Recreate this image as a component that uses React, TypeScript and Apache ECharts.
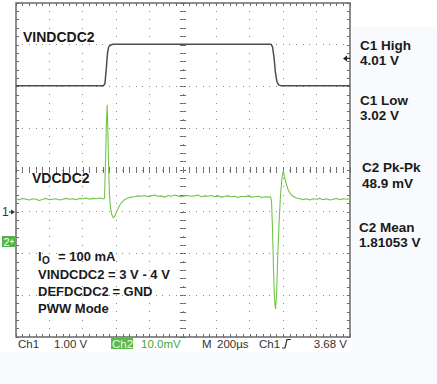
import React, { useEffect, useRef } from "react";
import * as echarts from "echarts";

// Time axis: 10 divisions of 200 µs
const timeMin = 0;
const timeMax = 2000;
// Ch1 (VINDCDC2), volts, 1.00 V/div, ground marker 1 div below centre
const ch1Min = -3;
const ch1Max = 5;
const ch1Times = [0, 525, 533, 541, 548, 555, 565, 580, 1528, 1536, 1545, 1553, 1562, 1572, 1585, 2000];
const ch1Volts = [3.02, 3.02, 3.08, 3.45, 3.8, 3.95, 3.99, 4.01, 4.01, 3.95, 3.7, 3.35, 3.12, 3.04, 3.02, 3.02];
// Ch2 (VDCDC2), mV offset from screen centre, 10.0 mV/div
const ch2Min = -40;
const ch2Max = 40;
const ch2Times = [
  0, 20, 40, 60, 80, 100, 120, 140, 160, 180, 200, 220, 240, 260, 280, 300, 320, 340, 360, 380, 400, 420, 440, 460, 480, 500, 520,
  530, 536, 542, 546, 550, 555, 560, 566, 574, 584, 592, 602, 616, 632, 650, 670, 690, 710, 730, 750,
  770, 790, 810, 830, 850, 870, 890, 910, 930, 950, 970, 990, 1010, 1030, 1050, 1070, 1090, 1110, 1130, 1150,
  1170, 1190, 1210, 1230, 1250, 1270, 1290, 1310, 1330, 1350, 1370, 1390, 1410, 1430, 1450, 1470, 1490, 1510, 1524,
  1530, 1536, 1542, 1548, 1554, 1560, 1568, 1576, 1584, 1592, 1600, 1610, 1620, 1630, 1645, 1660, 1680, 1700,
  1720, 1740, 1760, 1780, 1800, 1820, 1840, 1860, 1880, 1900, 1920, 1940, 1960, 1980, 2000,
];
const ch2Offsets = [
  -6.9, -7.1, -6.8, -7.0, -7.2, -6.9, -7.0, -7.3, -7.0, -6.8, -7.1, -7.0, -6.9, -7.2, -7.0, -6.8, -7.0, -6.9, -7.1, -6.8, -6.9, -6.7, -7.0, -6.8, -6.9, -6.7, -6.9,
  -6.8, 2.0, 12.0, 15.6, 10.0, 0.0, -6.0, -9.0, -10.8, -11.5, -11.0, -10.0, -8.8, -7.8, -7.1, -6.7, -6.5, -6.4, -6.2, -6.3,
  -6.1, -6.4, -6.2, -6.0, -6.3, -6.2, -6.5, -6.1, -6.3, -6.0, -6.2, -6.4, -6.2, -6.1, -6.3, -6.2, -6.0, -6.4, -6.2, -6.3,
  -6.1, -6.4, -6.2, -6.5, -6.3, -6.2, -6.4, -6.3, -6.6, -6.3, -6.4, -6.2, -6.5, -6.4, -6.3, -6.6, -6.4, -6.5, -6.4,
  -7.5, -14.0, -24.0, -31.0, -33.3, -30.0, -20.0, -12.0, -6.0, -2.0, -0.2, -2.0, -3.6, -4.8, -5.8, -6.3, -6.7, -6.9,
  -7.1, -6.9, -7.2, -6.9, -7.0, -6.8, -7.1, -6.9, -7.2, -7.0, -6.8, -7.1, -6.9, -7.0, -6.8,
];
// Graticule in divisions (5 minor steps per division)
const xDivs = [-5, 5];
const yDivs = [-4, 4];
const minorPerDiv = 5;
const verticalGridLines = [-4, -3, -2, -1, 0, 1, 2, 3, 4];
const horizontalGridLines = [-3, -2, -1, 0, 1, 2, 3];

const measureLabels = ["C1 High", "4.01 V", "C1 Low", "3.02 V", "C2 Pk-Pk", "48.9 mV", "C2 Mean", "1.81053 V"];
const noteLines = ["VINDCDC2 = 3 V - 4 V", "DEFDCDC2 = GND", "PWW Mode"];

const GRID_DOT = "#8a8a8a";
const FRAME = "#6a6a6a";
const GREEN = "#72c34c";
const BOLD = '"Liberation Sans", Arial, sans-serif';

function tickAxisX(extra: any) {
  return {
    type: "value",
    min: xDivs[0],
    max: xDivs[1],
    interval: 1,
    axisLabel: { show: false },
    axisLine: { show: false, onZero: false },
    axisTick: { show: true, inside: true, length: 3, lineStyle: { color: FRAME, width: 1 } },
    minorTick: { show: true, splitNumber: 5, length: 3, lineStyle: { color: FRAME, width: 1 } },
    splitLine: { show: false },
    ...extra,
  };
}
function tickAxisY(extra: any) {
  return {
    type: "value",
    min: yDivs[0],
    max: yDivs[1],
    interval: 1,
    axisLabel: { show: false },
    axisLine: { show: false, onZero: false },
    axisTick: { show: true, inside: true, length: 3, lineStyle: { color: FRAME, width: 1 } },
    minorTick: { show: true, splitNumber: 5, length: 3, lineStyle: { color: FRAME, width: 1 } },
    splitLine: { show: false },
    ...extra,
  };
}

export default function App() {
  const ref = useRef<HTMLDivElement>(null);
  useEffect(() => {
    document.body.style.margin = "0";
    const chart = echarts.init(ref.current!, null, { renderer: "svg" });
    const ch1Data = ch1Times.map((t, i) => [t, ch1Volts[i]]);
    const ch2Data = ch2Times.map((t, i) => [t, ch2Offsets[i]]);
    const gridData = [
      ...verticalGridLines.map((v) => [0, v]),
      ...horizontalGridLines.map((v) => [1, v]),
    ];

    const textEl = (text: string, x: number, y: number, extra: any = {}) => ({
      type: "text",
      x,
      y,
      silent: true,
      style: {
        text,
        fill: "#1a1a1a",
        font: `bold 14px ${BOLD}`,
        verticalAlign: "middle",
        align: "left",
        ...extra,
      },
    });
    const statusFont = `11.5px ${BOLD}`;
    const measureY = [45.3, 60.3, 100, 115, 167.5, 183.5, 227, 242];
    const measureX = [360, 360, 360, 360, 362, 362, 359, 359];
    const dot = (p: number[]) => ({
      type: "rect",
      shape: { x: Math.floor(p[0]), y: Math.floor(p[1]), width: 1, height: 1 },
      style: { fill: GRID_DOT },
    });

    const option: any = {
      animation: false,
      backgroundColor: "#ffffff",
      grid: {
        left: 16,
        top: 3,
        width: 334,
        height: 334,
        show: true,
        backgroundColor: "#ffffff",
        borderColor: FRAME,
        borderWidth: 1.5,
      },
      xAxis: [
        { type: "value", min: timeMin, max: timeMax, show: false, axisLine: { onZero: false } },
        tickAxisX({ position: "bottom" }),
        tickAxisX({ position: "top" }),
        tickAxisX({ position: "bottom", axisLine: { show: false, onZero: true, onZeroAxisIndex: 2 } }),
        tickAxisX({
          position: "bottom",
          axisLine: { show: false, onZero: true, onZeroAxisIndex: 2 },
          axisTick: { show: true, inside: false, length: 3, lineStyle: { color: FRAME, width: 1 } },
          minorTick: { show: true, splitNumber: 5, length: 3, lineStyle: { color: FRAME, width: 1 } },
        }),
      ],
      yAxis: [
        { type: "value", min: ch1Min, max: ch1Max, show: false, axisLine: { onZero: false } },
        { type: "value", min: ch2Min, max: ch2Max, show: false, axisLine: { onZero: false } },
        tickAxisY({ position: "left" }),
        tickAxisY({ position: "right" }),
        tickAxisY({ position: "left", axisLine: { show: false, onZero: true, onZeroAxisIndex: 1 } }),
        tickAxisY({
          position: "left",
          axisLine: { show: false, onZero: true, onZeroAxisIndex: 1 },
          axisTick: { show: true, inside: false, length: 3, lineStyle: { color: FRAME, width: 1 } },
          minorTick: { show: true, splitNumber: 5, length: 3, lineStyle: { color: FRAME, width: 1 } },
        }),
      ],
      series: [
        {
          name: "graticule",
          type: "custom",
          xAxisIndex: 1,
          yAxisIndex: 2,
          silent: true,
          z: 1,
          clip: false,
          data: gridData,
          renderItem: (_params: any, api: any) => {
            const kind = api.value(0);
            const v = api.value(1);
            const children: any[] = [];
            if (kind === 0) {
              const steps = (yDivs[1] - yDivs[0]) * minorPerDiv;
              for (let k = 1; k < steps; k++) children.push(dot(api.coord([v, yDivs[0] + k / minorPerDiv])));
            } else {
              const steps = (xDivs[1] - xDivs[0]) * minorPerDiv;
              for (let k = 1; k < steps; k++) children.push(dot(api.coord([xDivs[0] + k / minorPerDiv, v])));
            }
            return { type: "group", children };
          },
        },
        {
          name: "VDCDC2",
          type: "line",
          xAxisIndex: 0,
          yAxisIndex: 1,
          data: ch2Data,
          showSymbol: false,
          silent: true,
          z: 3,
          lineStyle: { color: GREEN, width: 1.1 },
        },
        {
          name: "VINDCDC2",
          type: "line",
          xAxisIndex: 0,
          yAxisIndex: 0,
          data: ch1Data,
          showSymbol: false,
          silent: true,
          z: 4,
          lineStyle: { color: "#4d4d4d", width: 1.5 },
        },
      ],
      graphic: [
        { type: "rect", shape: { x: 352, y: 27, width: 85, height: 357 }, style: { fill: "#f8fafd" }, silent: true, z: -10 },
        { type: "rect", shape: { x: 0, y: 352, width: 437, height: 32 }, style: { fill: "#f8fafd" }, silent: true, z: -10 },
        textEl("VINDCDC2", 23, 36.5),
        textEl("VDCDC2", 32, 178),
        ...measureLabels.map((t, i) => textEl(t, measureX[i], measureY[i], { font: `bold 13.5px ${BOLD}` })),
        textEl("I", 38, 256, { font: `bold 13px ${BOLD}` }),
        textEl("O", 42, 260, { font: `bold 10px ${BOLD}` }),
        textEl("= 100 mA", 58, 256, { font: `bold 13px ${BOLD}` }),
        ...noteLines.map((t, i) => textEl(t, 38, 274 + i * 17, { font: `bold 13px ${BOLD}` })),
        textEl("1", 2, 212, { font: `12px ${BOLD}`, fill: "#333" }),
        { type: "line", shape: { x1: 9, y1: 212, x2: 14, y2: 212 }, style: { stroke: "#333", lineWidth: 1 }, silent: true },
        { type: "polygon", shape: { points: [[11, 209.5], [15, 212], [11, 214.5]] }, style: { fill: "#333" }, silent: true },
        { type: "rect", shape: { x: 2, y: 236, width: 13, height: 11 }, style: { fill: "#56b447" }, silent: true },
        textEl("2", 3.5, 241.8, { font: `11px ${BOLD}`, fill: "#ffffff" }),
        { type: "line", shape: { x1: 10, y1: 241.5, x2: 14, y2: 241.5 }, style: { stroke: "#ffffff", lineWidth: 1 }, silent: true },
        { type: "line", shape: { x1: 12, y1: 239.5, x2: 12, y2: 243.5 }, style: { stroke: "#ffffff", lineWidth: 1 }, silent: true },
        { type: "polygon", shape: { points: [[343, 58.4], [347, 55.4], [347, 61.4]] }, style: { fill: "#222" }, silent: true },
        { type: "line", shape: { x1: 346, y1: 58.4, x2: 350, y2: 58.4 }, style: { stroke: "#222", lineWidth: 1.2 }, silent: true },
        textEl("Ch1", 18, 343.5, { font: statusFont, fill: "#333" }),
        textEl("1.00 V", 54, 343.5, { font: statusFont, fill: "#333" }),
        { type: "rect", shape: { x: 111, y: 337.5, width: 22, height: 11.5 }, style: { fill: "#5cb94a" }, silent: true },
        textEl("Ch2", 112, 343.5, { font: statusFont, fill: "#e8f7e0" }),
        textEl("10.0mV", 141, 343.5, { font: statusFont, fill: "#45a83a" }),
        textEl("M", 202, 343.5, { font: statusFont, fill: "#333" }),
        textEl("200µs", 217, 343.5, { font: statusFont, fill: "#333" }),
        textEl("Ch1", 259, 343.5, { font: statusFont, fill: "#333" }),
        {
          type: "polyline",
          shape: { points: [[282, 348], [285, 348], [287, 339.5], [291, 339.5]] },
          style: { stroke: "#333", lineWidth: 1.2, fill: null },
          silent: true,
        },
        textEl("3.68 V", 347, 343.5, { font: statusFont, fill: "#333", align: "right" }),
      ],
    };
    chart.setOption(option);
    return () => chart.dispose();
  }, []);
  return <div ref={ref} style={{ width: 437, height: 384 }} />;
}
